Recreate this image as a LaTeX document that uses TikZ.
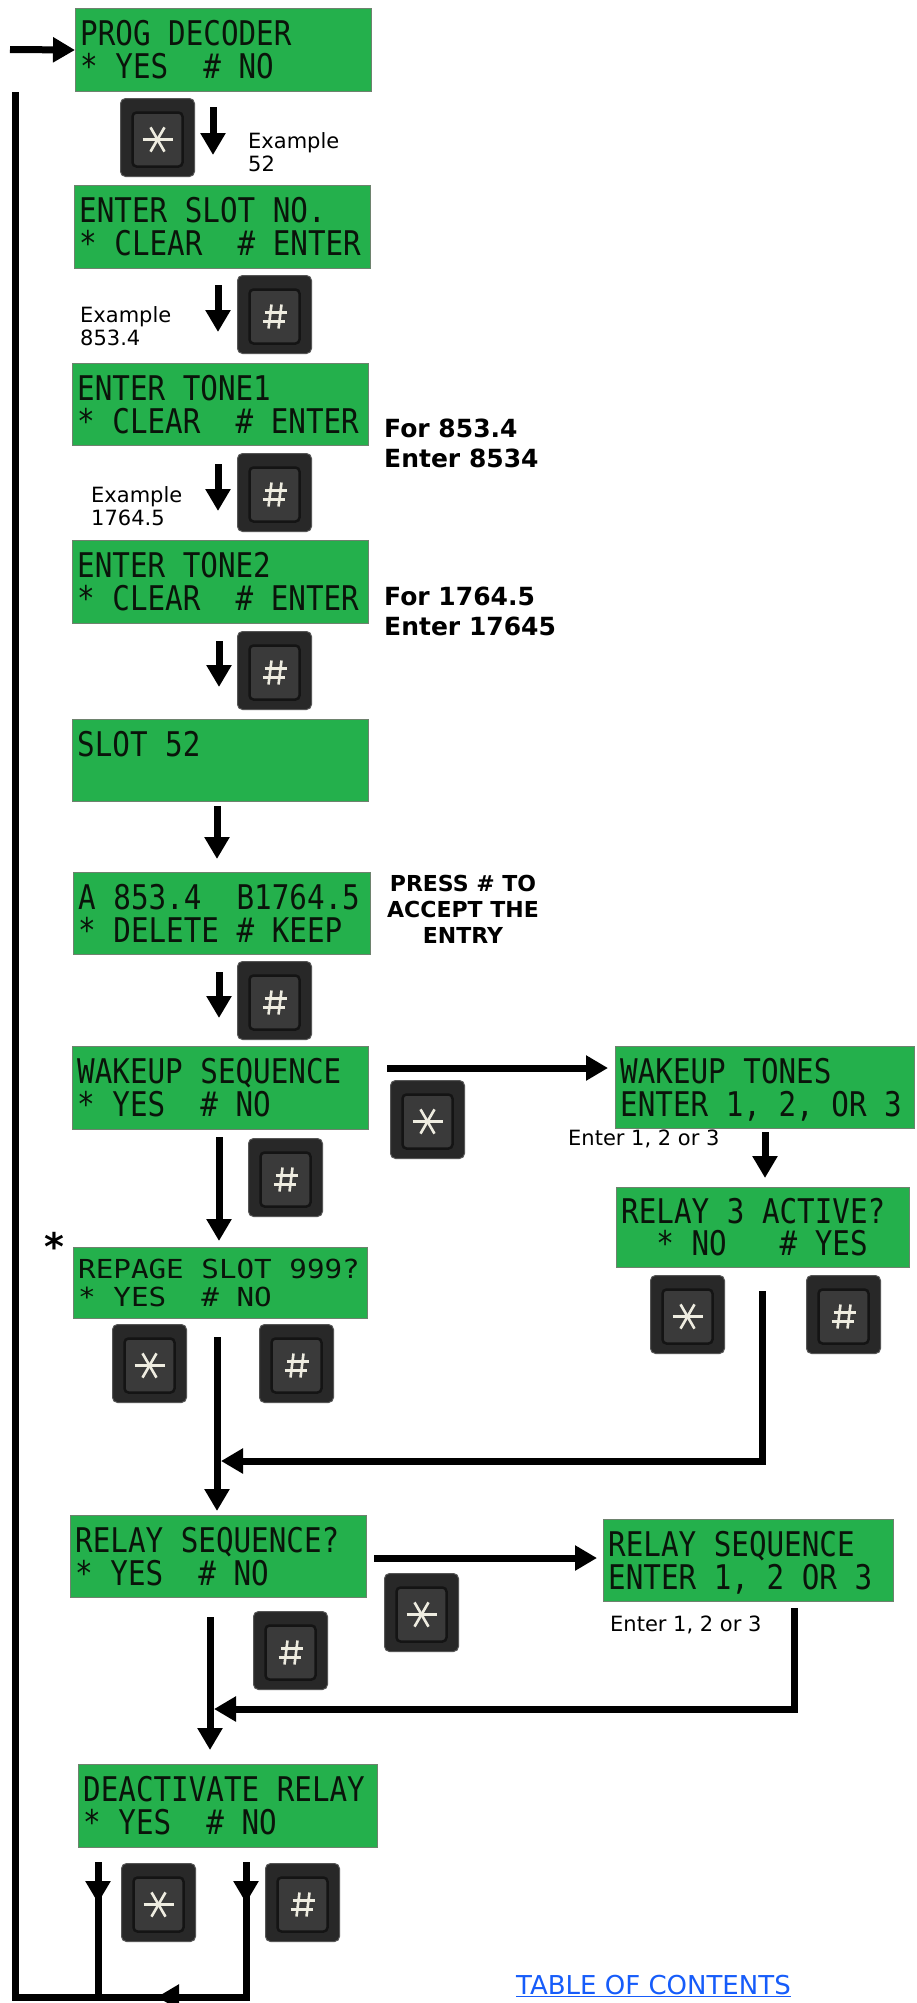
\documentclass[tikz,border=0pt]{standalone}
\usepackage{fontspec}
\usepackage{graphicx}
\setmainfont{DejaVu Sans}
\newfontfamily\lcdfont[FakeStretch=0.86]{DejaVu Sans Mono}
\usetikzlibrary{arrows.meta}
\definecolor{lcdgreen}{RGB}{36,176,76}
\definecolor{lcdedge}{RGB}{110,130,110}
\definecolor{lcdink}{RGB}{10,20,10}
\definecolor{kcol}{RGB}{40,40,40}
\definecolor{kedge}{RGB}{85,85,85}
\definecolor{kface}{RGB}{58,58,58}
\definecolor{ksym}{RGB}{238,236,224}
\definecolor{tocblue}{RGB}{22,92,250}

\newcommand{\lcdbox}[9]{%
  \node[lcd, minimum width=#4pt, minimum height=#5pt, anchor=north west] (#1) at (#2,#3) {};
  \node[lcdtext, anchor=base west] (#1-a) at ([xshift=5pt,yshift=-#6pt]#1.north west) {#8};
  \node[lcdtext, anchor=base west] (#1-b) at ([xshift=5pt,yshift=-#7pt]#1.north west) {#9};
}
\newcommand{\lcdsq}[1]{\scalebox{1}[0.77]{#1}}
\newcommand{\keybase}[3]{%
  \node[keyout, anchor=north west] (#1) at (#2,#3) {};
  \node[keyin] (#1-in) at ([yshift=-2pt]#1.center) {};
}
\newcommand{\starkey}[3]{%
  \keybase{#1}{#2}{#3}
  \draw[sym] ([xshift=-15pt]#1-in.center) -- ([xshift=15pt]#1-in.center);
  \draw[sym] ([shift={(60:14)}]#1-in.center) -- ([shift={(240:14)}]#1-in.center);
  \draw[sym] ([shift={(120:14)}]#1-in.center) -- ([shift={(300:14)}]#1-in.center);
}
\newcommand{\hashkey}[3]{%
  \keybase{#1}{#2}{#3}
  \draw[sym] ([shift={(-3,-12)}]#1-in.center) -- ([shift={(-6,12)}]#1-in.center);
  \draw[sym] ([shift={(7,-12)}]#1-in.center) -- ([shift={(4,12)}]#1-in.center);
  \draw[sym] ([shift={(-10,-4)}]#1-in.center) -- ([shift={(12,-4)}]#1-in.center);
  \draw[sym] ([shift={(-12,5)}]#1-in.center) -- ([shift={(10,5)}]#1-in.center);
}

\begin{document}
\begin{tikzpicture}[x=1pt,y=-1pt,
  lcd/.style={rectangle, fill=lcdgreen, draw=lcdedge, line width=1pt, inner sep=0pt},
  lcdtext/.style={inner sep=0pt, font=\lcdfont\fontsize{34}{34}\selectfont, text=lcdink},
  keyout/.style={rectangle, rounded corners=5pt, fill=kcol, draw=kedge, line width=1pt,
    minimum width=74pt, minimum height=78pt, inner sep=0pt},
  keyin/.style={rectangle, rounded corners=4pt, fill=kface, draw=black!92, line width=2.5pt,
    minimum width=50pt, minimum height=54pt, inner sep=0pt},
  sym/.style={draw=ksym, line width=2.6pt},
  arr/.style={line width=7pt, line join=miter, -{Triangle[length=22pt,width=24pt]}},
  wire/.style={line width=7pt, line join=miter},
  note/.style={inner sep=0pt, font=\fontsize{21}{23}\selectfont, align=left},
  bnote/.style={inner sep=0pt, font=\bfseries\fontsize{25}{30}\selectfont, align=left},
  cnote/.style={inner sep=0pt, font=\bfseries\fontsize{22}{26}\selectfont, align=center},
]
\useasboundingbox (0,0) rectangle (916,2003);
\fill[white] (0,0) rectangle (916,2003);
\clip (0,0) rectangle (916,2003);

% ---------- LCD screens ----------
\lcdbox{prog}{75}{8}{296}{83}{37}{70}{PROG~DECODER}{*~YES~~\#~NO}
\lcdbox{slotno}{74}{185}{296}{83}{37}{70}{ENTER~SLOT~NO.}{*~CLEAR~~\#~ENTER}
\lcdbox{tone1}{72}{363}{296}{82}{37}{70}{ENTER~TONE1}{*~CLEAR~~\#~ENTER}
\lcdbox{tone2}{72}{540}{296}{83}{37}{70}{ENTER~TONE2}{*~CLEAR~~\#~ENTER}
\lcdbox{slot52}{72}{719}{296}{82}{37}{70}{SLOT~52}{}
\lcdbox{accept}{73}{872}{297}{82}{37}{70}{A~853.4~~B1764.5}{*~DELETE~\#~KEEP}
\lcdbox{wakeseq}{72}{1046}{296}{83}{37}{70}{WAKEUP~SEQUENCE}{*~YES~~\#~NO}
\lcdbox{waketones}{615}{1046}{299}{82}{37}{70}{WAKEUP~TONES}{ENTER~1,~2,~OR~3}
\lcdbox{relay3}{616}{1187}{293}{80}{36}{68}{RELAY~3~ACTIVE?}{~~*~NO~~~\#~YES}
\lcdbox{repage}{73}{1247}{294}{71}{31}{59}{\lcdsq{REPAGE~SLOT~999?}}{\lcdsq{*~YES~~\#~NO}}
\lcdbox{relayseq}{70}{1515}{296}{82}{37}{70}{RELAY~SEQUENCE?}{*~YES~~\#~NO}
\lcdbox{relayseqr}{603}{1519}{290}{82}{37}{70}{RELAY~SEQUENCE}{ENTER~1,~2~OR~3}
\lcdbox{deact}{78}{1764}{299}{83}{37}{70}{DEACTIVATE~RELAY}{*~YES~~\#~NO}

% ---------- keys ----------
\starkey{k1}{120}{98}
\hashkey{k2}{237}{275}
\hashkey{k3}{237}{453}
\hashkey{k4}{237}{631}
\hashkey{k6}{237}{961}
\starkey{k7}{390}{1080}
\hashkey{k7b}{248}{1138}
\starkey{k8}{650}{1275}
\hashkey{k8b}{806}{1275}
\starkey{k9}{112}{1324}
\hashkey{k9b}{259}{1324}
\starkey{k10}{384}{1573}
\hashkey{k10b}{253}{1611}
\starkey{k11}{121}{1863}
\hashkey{k11b}{265}{1863}

% ---------- text notes ----------
\node[note, anchor=north west] (ex52) at (248,132) {Example\\52};
\node[note, anchor=north west] (ex853) at (80,306) {Example\\853.4};
\node[note, anchor=north west] (ex1764) at (91,486) {Example\\1764.5};
\node[bnote, anchor=north west] (for853) at (384,419) {For 853.4\\Enter 8534};
\node[bnote, anchor=north west] (for1764) at (384,587) {For 1764.5\\Enter 17645};
\node[cnote, anchor=north] (press) at (463,875) {PRESS \# TO\\ACCEPT THE\\ENTRY};
\node[note, anchor=base west] (enter1) at (568,1145) {Enter 1, 2 or 3};
\node[note, anchor=base west] (enter2) at (610,1631) {Enter 1, 2 or 3};
\node[inner sep=0pt, font=\bfseries\fontsize{38}{38}\selectfont] (mark) at (54,1246) {*};
\node[inner sep=0pt, anchor=base west, text=tocblue, font=\fontsize{26}{26}\selectfont] (toc) at (516,1994) {\underline{TABLE OF CONTENTS}};

% ---------- connector end points ----------
\coordinate (in) at (10,49.5);
\coordinate (a1s) at (213,107);   \coordinate (a1e) at (213,155);
\coordinate (a2s) at (218,285);   \coordinate (a2e) at (218,332);
\coordinate (a3s) at (218,464);   \coordinate (a3e) at (218,511);
\coordinate (a4s) at (219,641);   \coordinate (a4e) at (219,687);
\coordinate (a5s) at (217,806);   \coordinate (a5e) at (217,859);
\coordinate (a6s) at (219,972);   \coordinate (a6e) at (219,1018);
\coordinate (w1) at (387,1068);   \coordinate (w2) at (608,1068);
\coordinate (t1) at (765,1132);   \coordinate (t2) at (765,1178);
\coordinate (d1) at (219,1137);   \coordinate (d2) at (219,1241);
\coordinate (r3s) at (762,1291);  \coordinate (r3c) at (762,1461); \coordinate (r3e) at (221,1461);
\coordinate (p1) at (217,1337);   \coordinate (p2) at (217,1511);
\coordinate (s1) at (374,1558);   \coordinate (s2) at (597,1558);
\coordinate (rss) at (794,1608);  \coordinate (rsc) at (794,1709); \coordinate (rse) at (214,1709);
\coordinate (q1) at (210,1617);   \coordinate (q2) at (210,1750);
\coordinate (ya) at (98,1862);    \coordinate (yb) at (98,1903);   \coordinate (yc) at (98,1997);
\coordinate (na) at (246,1862);   \coordinate (nb) at (246,1903);  \coordinate (nc) at (246,1997);
\coordinate (bl) at (15,1997);    \coordinate (tl) at (15,92);     \coordinate (bm) at (157,1997);

% ---------- connectors ----------
\draw[arr] (in) -- (prog.west);
\draw[arr] (a1s) -- (a1e);
\draw[arr] (a2s) -- (a2e);
\draw[arr] (a3s) -- (a3e);
\draw[arr] (a4s) -- (a4e);
\draw[arr] (a5s) -- (a5e);
\draw[arr] (a6s) -- (a6e);
\draw[arr] (w1) -- (w2);
\draw[arr] (t1) -- (t2);
\draw[arr] (d1) -- (d2);
\draw[arr] (r3s) -- (r3c) -- (r3e);
\draw[arr] (p1) -- (p2);
\draw[arr] (s1) -- (s2);
\draw[arr] (rss) -- (rsc) -- (rse);
\draw[arr] (q1) -- (q2);
\draw[wire] (ya) -- (yc);
\draw[arr] (ya) -- (yb);
\draw[wire] (na) -- (nc);
\draw[arr] (na) -- (nb);
\draw[wire] ([xshift=3.5pt]nc) -- (bl) -- (tl);
\draw[arr] (nc) -- (bm);
\end{tikzpicture}
\end{document}
